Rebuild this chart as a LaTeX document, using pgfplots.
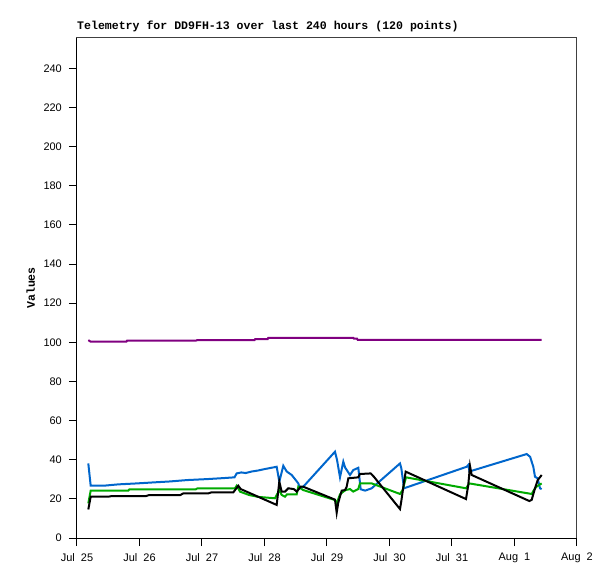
\documentclass[border=0pt]{standalone}
\usepackage{fontspec}
\setmainfont{Liberation Sans}
\newfontfamily\monob{Liberation Mono}
\usepackage{pgfplots}
\pgfplotsset{compat=1.18}
\definecolor{tblue}{RGB}{0,102,204}
\definecolor{tgreen}{RGB}{0,170,0}
\definecolor{tpurple}{RGB}{128,0,128}
\definecolor{frame}{RGB}{64,64,64}
\begin{document}
\begin{tikzpicture}
\useasboundingbox (-77bp,-41bp) rectangle (538bp,538bp);
\begin{axis}[
  anchor=south west, at={(0,0)},
  scale only axis, width=500bp, height=500bp,
  xmin=0, xmax=8, ymin=0, ymax=255.5,
  xtick={0,1,2,3,4,5,6,7,8},
  xticklabels={Jul\ \ 25,Jul\ \ 26,Jul\ \ 27,Jul\ \ 28,Jul\ \ 29,Jul\ \ 30,Jul\ \ 31,Aug\ \ 1,Aug\ \ 2},
  ytick={0,20,...,240},
  tick align=outside, xtick pos=left, ytick pos=left, major tick length=8bp,
  tick style={black, line width=1bp},
  axis line style={draw=frame, line width=1bp},
  /pgf/number format/assume math mode=true,
  ticklabel style={font=\fontsize{11}{13}\selectfont},
  yticklabel style={anchor=east, inner sep=0pt},
  xticklabel style={anchor=north, inner sep=0pt},
  yticklabel shift=7bp,
  xticklabel shift=7bp,
  title={Telemetry for DD9FH-13 over last 240 hours (120 points)},
  title style={at={(rel axis cs:0,1)}, anchor=base west, yshift=3bp, inner sep=0pt, font=\monob\bfseries\fontsize{11.6}{13}\selectfont},
  ylabel={Values},
  ylabel style={at={(axis description cs:-0.084,0.5)}, anchor=base, inner sep=0pt, font=\monob\bfseries\fontsize{11.6}{13}\selectfont},
  after end axis/.code={\draw[black,line width=1bp] (rel axis cs:0,1) -- (rel axis cs:0,0) -- (rel axis cs:1,0);},
]
% purple
\addplot[tpurple, line width=2bp] coordinates {
(0.181,101.1)(0.219,100.3)(0.79,100.3)(0.8,100.8)(1.9,100.8)(1.92,101.1)(2.84,101.1)(2.85,101.6)(3.05,101.6)(3.06,102.3)(4.42,102.3)(4.43,101.9)(4.48,101.9)(4.49,101.3)(7.435,101.3)
};
% blue
\addplot[tblue, line width=2bp] coordinates {
(0.181,38.1)(0.219,26.7)(0.42,26.7)(0.66,27.4)(0.96,27.9)(1.22,28.4)(1.49,28.9)(1.76,29.6)(2.08,30.1)(2.34,30.6)(2.52,31.0)
(2.555,33)(2.63,33.5)(2.7,33.2)(2.8,34)(2.9,34.5)(3.0,35.2)(3.195,36.4)(3.237,28.8)(3.301,36.9)(3.355,34)(3.435,32.2)(3.49,30)(3.541,27.9)(3.568,25.4)(3.62,26.2)
(4.128,44.1)(4.16,40)(4.208,31)(4.261,39)(4.29,36)(4.368,32.2)(4.42,34.7)(4.501,35.9)(4.539,24.9)(4.61,24.2)(4.715,25.4)
(5.168,38.1)(5.19,35.5)(5.232,25.4)(6.235,36.4)(6.26,37.3)(6.28,34)(7.195,42.9)(7.25,41.5)(7.301,36.4)(7.328,31.3)(7.37,30.5)(7.408,25.4)(7.435,25.0)
};
% green
\addplot[tgreen, line width=2bp] coordinates {
(0.181,17.7)(0.219,24.2)(0.82,24.2)(0.84,24.9)(1.9,24.9)(1.93,25.4)(2.528,25.4)(2.555,26.7)(2.608,23.7)(2.75,22)(2.9,21)(3.168,20.3)(3.237,24.5)(3.275,22)(3.328,21.1)(3.36,22.3)(3.515,22.3)(3.541,26.2)(3.62,24.5)
(4.128,19.4)(4.155,17.7)(4.208,22.3)(4.261,23.7)(4.3,24.5)(4.368,25)(4.42,23.7)(4.5,25)(4.528,27.9)(4.715,27.9)
(5.168,22.5)(5.21,24.5)(5.264,31)(6.224,25.4)(6.277,27.9)(7.275,22.5)(7.31,24.5)(7.35,26.2)(7.435,27.9)
};
% black
\addplot[black, line width=2bp] coordinates {
(0.181,14.6)(0.219,21.1)(0.5,21.1)(0.55,21.4)(1.1,21.4)(1.15,21.9)(1.65,21.9)(1.7,22.8)(2.1,22.8)(2.15,23.3)(2.501,23.3)(2.581,26.7)(2.62,25)(3.195,16.9)(3.237,28.8)(3.275,23.7)(3.328,23.7)(3.381,25.4)(3.47,25.0)(3.515,23.7)(3.579,26.2)(3.62,26.2)
(4.128,19.6)(4.155,12.9)(4.18,18)(4.235,24.2)(4.288,24.5)(4.315,26.2)(4.341,30.5)(4.5,31)(4.528,32.7)(4.699,33)(4.75,31.3)
(5.168,14.8)(5.19,19)(5.23,28)(5.259,33.9)(6.224,19.9)(6.26,27)(6.288,36.8)(6.315,32.2)(7.237,18.9)(7.275,19.5)(7.328,25.4)(7.37,29.5)(7.435,32.2)
};
\end{axis}
\end{tikzpicture}
\end{document}
